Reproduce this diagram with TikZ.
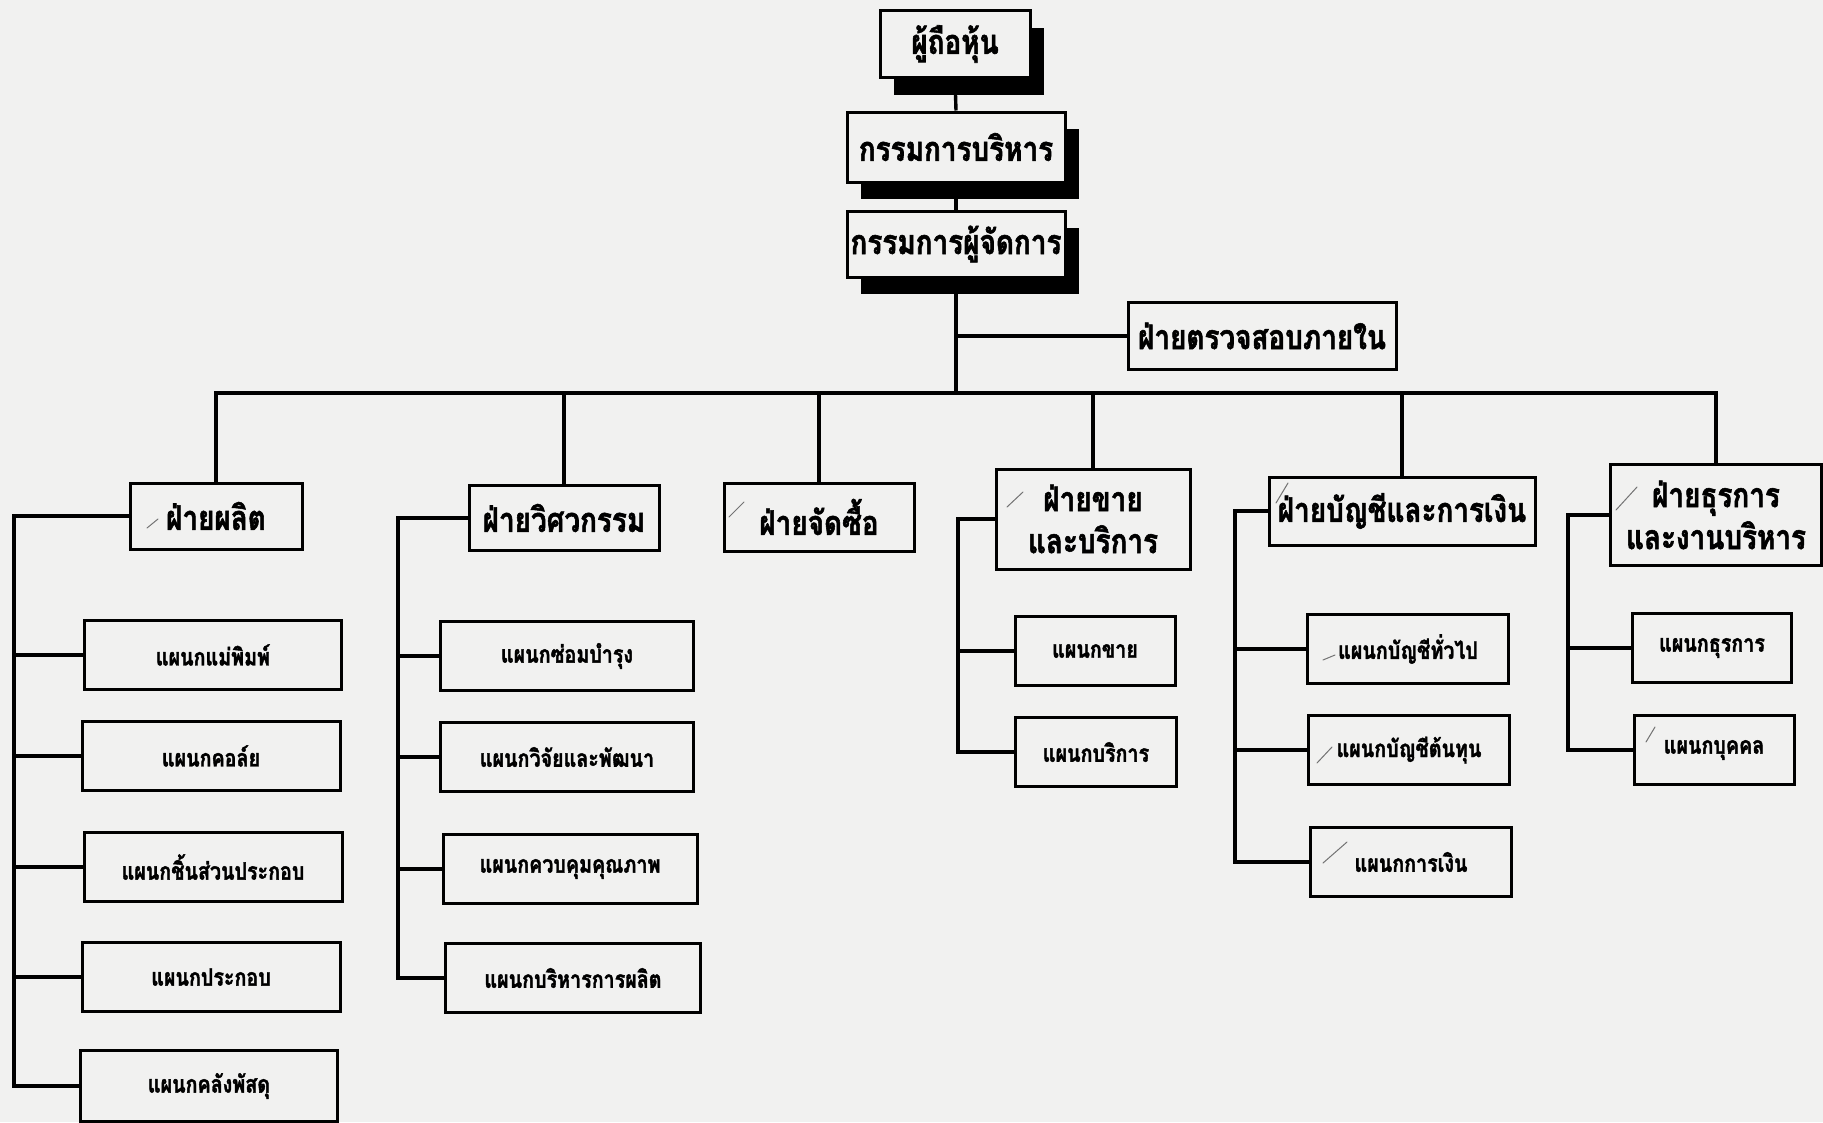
\documentclass[tikz,border=0pt]{standalone}
\usepackage{fontspec}
\newfontfamily\thaifont[Script=Thai,FakeStretch=0.82,BoldFeatures={FakeBold=1.6}]{Loma}
\usetikzlibrary{shadows}
\definecolor{paper}{RGB}{241,241,240}

\begin{document}
\begin{tikzpicture}[x=1pt,y=-1pt,
		box/.style={draw,line width=3pt,fill=paper,inner sep=0pt,align=center,
			font=\thaifont\bfseries\fontsize{34}{42}\selectfont},
		topbox/.style={box,drop shadow={shadow xshift=14pt,shadow yshift=-17pt,fill=black,opacity=1}},
		unit/.style={box,minimum height=69pt,font=\thaifont\bfseries\fontsize{24}{28}\selectfont},
		link/.style={line width=3.4pt},
		bus/.style={line width=4.4pt},
		pencil/.style={black!55,line width=1pt,line cap=round}]
			\fill[paper] (0,0) rectangle (1823,1122);
			\useasboundingbox (0,0) rectangle (1823,1122);
			
			% top of the company
			\node[topbox,minimum width=150pt,minimum height=67pt] (share) at (955,44) {ผู้ถือหุ้น};
			\node[topbox,minimum width=218pt,minimum height=70pt] (exec) at (956,147) {กรรมการบริหาร};
			\node[topbox,minimum width=218pt,minimum height=66pt] (md) at (956,244) {กรรมการผู้จัดการ};
			\node[box,minimum width=268pt,minimum height=67pt] (audit) at (1262,336) {ฝ่ายตรวจสอบภายใน};
			
			\coordinate (bus) at (956,393);
			\coordinate (prodx) at (14,0);
			\coordinate (engx) at (398,0);
			\coordinate (salex) at (958,0);
			\coordinate (acctx) at (1235,0);
			\coordinate (adminx) at (1568,0);
			
			% departments
			\node[box,minimum width=172pt,minimum height=66pt] (prod) at (216,516) {ฝ่ายผลิต};
			\node[box,minimum width=190pt,minimum height=65pt] (eng) at (564,518) {ฝ่ายวิศวกรรม};
			\node[box,minimum width=190pt,minimum height=68pt] (buy) at (819,517) {ฝ่ายจัดซื้อ};
			\node[box,minimum width=194pt,minimum height=100pt] (sale) at (1093,519) {ฝ่ายขาย\\และบริการ};
			\node[box,minimum width=266pt,minimum height=68pt] (acct) at (1402,511) {ฝ่ายบัญชีและการเงิน};
			\node[box,minimum width=211pt,minimum height=101pt] (admin) at (1716,515) {ฝ่ายธุรการ\\และงานบริหาร};
			
			% sections
			\node[unit,minimum width=257pt] (p1) at (213,655) {แผนกแม่พิมพ์};
			\node[unit,minimum width=258pt] (p2) at (211,756) {แผนกคอล์ย};
			\node[unit,minimum width=258pt] (p3) at (213,867) {แผนกชิ้นส่วนประกอบ};
			\node[unit,minimum width=258pt] (p4) at (211,977) {แผนกประกอบ};
			\node[unit,minimum width=257pt,minimum height=71pt] (p5) at (209,1086) {แผนกคลังพัสดุ};
			
			\node[unit,minimum width=253pt] (e1) at (567,656) {แผนกซ่อมบำรุง};
			\node[unit,minimum width=253pt] (e2) at (567,757) {แผนกวิจัยและพัฒนา};
			\node[unit,minimum width=254pt] (e3) at (570,869) {แผนกควบคุมคุณภาพ};
			\node[unit,minimum width=255pt] (e4) at (573,978) {แผนกบริหารการผลิต};
			
			\node[unit,minimum width=160pt] (s1) at (1095,651) {แผนกขาย};
			\node[unit,minimum width=161pt] (s2) at (1096,752) {แผนกบริการ};
			
			\node[unit,minimum width=201pt] (a1) at (1408,649) {แผนกบัญชีทั่วไป};
			\node[unit,minimum width=201pt] (a2) at (1409,750) {แผนกบัญชีต้นทุน};
			\node[unit,minimum width=201pt] (a3) at (1411,862) {แผนกการเงิน};
			
			\node[unit,minimum width=159pt] (d1) at (1712,648) {แผนกธุรการ};
			\node[unit,minimum width=160pt] (d2) at (1714,750) {แผนกบุคคล};
			
			% lines
			\draw[link] (share.south) -- (exec.north);
			\draw[link] (exec.south) -- (md.north);
			\draw[link] (md.south) -- (bus);
			\draw[link] (md.south |- audit.west) -- (audit.west);
			\draw[bus] (prod.north) |- (bus) -| (admin.north);
			\foreach \d in {eng,buy,sale,acct}
				\draw[bus] (\d.north) -- (\d.north |- bus);
			
			\draw[link] (prod.west) -| (prodx |- p5.west) -- (p5.west);
			\foreach \u in {p1,p2,p3,p4}
				\draw[link] (\u.west) -- (\u.west -| prodx);
			\draw[link] (eng.west) -| (engx |- e4.west) -- (e4.west);
			\foreach \u in {e1,e2,e3}
				\draw[link] (\u.west) -- (\u.west -| engx);
			\draw[link] (sale.west) -| (salex |- s2.west) -- (s2.west);
			\draw[link] (s1.west) -- (s1.west -| salex);
			\draw[link] (acct.west) -| (acctx |- a3.west) -- (a3.west);
			\foreach \u in {a1,a2}
				\draw[link] (\u.west) -- (\u.west -| acctx);
			\draw[link] (admin.west) -| (adminx |- d2.west) -- (d2.west);
			\draw[link] (d1.west) -- (d1.west -| adminx);
			
			% pencil ticks
			\draw[pencil] (147,528) -- (158,519);
			\draw[pencil] (729,517) -- (744,502);
			\draw[pencil] (1007,507) -- (1023,492);
			\draw[pencil] (1276,503) -- (1288,483);
			\draw[pencil] (1616,510) -- (1637,487);
			\draw[pencil] (1323,660) -- (1335,655);
			\draw[pencil] (1317,763) -- (1332,747);
			\draw[pencil] (1323,863) -- (1347,842);
			\draw[pencil] (1646,742) -- (1655,727);
		\end{tikzpicture}
\end{document}
